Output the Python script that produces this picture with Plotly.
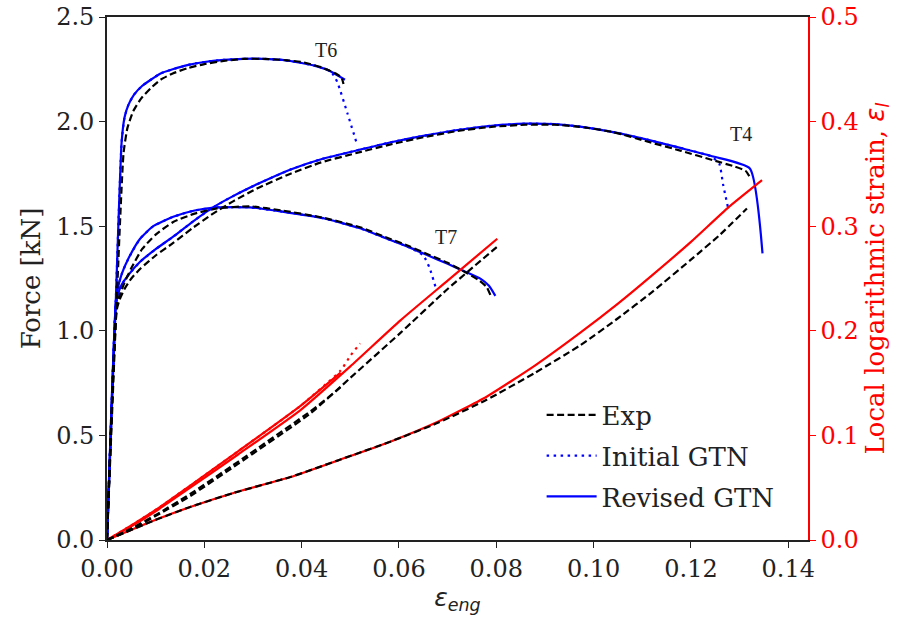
import plotly.graph_objects as go

# ---------------- Force data (left axis, kN) ----------------
# T6
t6_rev_x = [0, 0.0018, 0.0030, 0.0036, 0.0044, 0.0056, 0.0072, 0.0090, 0.0110, 0.0135, 0.0165, 0.0200,
            0.0240, 0.0280, 0.0320, 0.0360, 0.0400, 0.0430, 0.0460, 0.0489]
t6_rev_f = [0, 1.14, 1.90, 2.02, 2.08, 2.13, 2.17, 2.20, 2.23, 2.25, 2.27, 2.285,
            2.295, 2.30, 2.30, 2.295, 2.28, 2.265, 2.24, 2.20]
t6_ini_x = [0, 0.0018, 0.0030, 0.0036, 0.0044, 0.0056, 0.0072, 0.0090, 0.0110, 0.0135, 0.0165, 0.0200,
            0.0240, 0.0280, 0.0320, 0.0360, 0.0400, 0.0430, 0.0460, 0.0473, 0.0494, 0.0514]
t6_ini_f = [0, 1.14, 1.90, 2.02, 2.08, 2.13, 2.17, 2.20, 2.23, 2.25, 2.27, 2.285,
            2.295, 2.30, 2.30, 2.295, 2.28, 2.265, 2.24, 2.19, 2.04, 1.89]
t6_exp_x = [0, 0.0020, 0.0034, 0.0042, 0.0054, 0.0070, 0.0090, 0.0110, 0.0135, 0.0165, 0.0200, 0.0240,
            0.0280, 0.0320, 0.0360, 0.0400, 0.0440, 0.0470, 0.0482, 0.0486]
t6_exp_f = [0, 1.15, 1.85, 1.97, 2.05, 2.11, 2.16, 2.20, 2.23, 2.255, 2.275, 2.29,
            2.30, 2.30, 2.295, 2.285, 2.26, 2.23, 2.21, 2.18]

# T4
t4_rev_x = [0, 0.0018, 0.0022, 0.0030, 0.0045, 0.0068, 0.0100, 0.0136, 0.0175, 0.0218, 0.0260, 0.0308,
            0.0376, 0.0440, 0.0513, 0.0581, 0.0650, 0.0720, 0.0790, 0.0860, 0.0920, 0.0972, 0.1040,
            0.1110, 0.1180, 0.1246, 0.1321, 0.1347]
t4_rev_f = [0, 1.12, 1.17, 1.22, 1.27, 1.33, 1.39, 1.45, 1.52, 1.59, 1.645, 1.70,
            1.77, 1.82, 1.862, 1.90, 1.932, 1.96, 1.98, 1.99, 1.988, 1.976, 1.95,
            1.914, 1.873, 1.833, 1.776, 1.37]
t4_ini_x = [0, 0.0018, 0.0022, 0.0030, 0.0045, 0.0068, 0.0100, 0.0136, 0.0175, 0.0218, 0.0260, 0.0308,
            0.0376, 0.0440, 0.0513, 0.0581, 0.0650, 0.0720, 0.0790, 0.0860, 0.0920, 0.0972, 0.1040,
            0.1110, 0.1180, 0.1240, 0.1258, 0.1266, 0.1276]
t4_ini_f = [0, 1.12, 1.17, 1.22, 1.27, 1.33, 1.39, 1.45, 1.52, 1.59, 1.645, 1.70,
            1.77, 1.82, 1.862, 1.90, 1.932, 1.96, 1.98, 1.99, 1.988, 1.976, 1.95,
            1.914, 1.873, 1.835, 1.80, 1.70, 1.59]
t4_exp_x = [0, 0.0020, 0.0026, 0.0036, 0.0050, 0.0070, 0.0100, 0.0136, 0.0175, 0.0218, 0.0260, 0.0308,
            0.0376, 0.0440, 0.0513, 0.0581, 0.0650, 0.0720, 0.0790, 0.0860, 0.0920, 0.0972, 0.1040,
            0.1110, 0.1180, 0.1246, 0.1290, 0.1312, 0.1321]
t4_exp_f = [0, 1.10, 1.15, 1.20, 1.25, 1.30, 1.36, 1.42, 1.49, 1.56, 1.62, 1.68,
            1.75, 1.805, 1.85, 1.89, 1.925, 1.955, 1.975, 1.985, 1.985, 1.975, 1.95,
            1.905, 1.86, 1.815, 1.785, 1.765, 1.735]

# T7
t7_rev_x = [0, 0.0018, 0.0022, 0.0030, 0.0045, 0.0068, 0.0095, 0.0136, 0.0180, 0.0226, 0.0294, 0.0360,
            0.0445, 0.0520, 0.0570, 0.0620, 0.0660, 0.0700, 0.0733, 0.0768, 0.0785, 0.0798]
t7_rev_f = [0, 1.13, 1.20, 1.27, 1.35, 1.44, 1.50, 1.545, 1.575, 1.59, 1.59, 1.57,
            1.538, 1.49, 1.445, 1.40, 1.36, 1.32, 1.286, 1.248, 1.215, 1.167]
t7_ini_x = [0, 0.0018, 0.0022, 0.0030, 0.0045, 0.0068, 0.0095, 0.0136, 0.0180, 0.0226, 0.0294, 0.0360,
            0.0445, 0.0520, 0.0570, 0.0620, 0.0650, 0.0663, 0.0675]
t7_ini_f = [0, 1.13, 1.20, 1.27, 1.35, 1.44, 1.50, 1.545, 1.575, 1.59, 1.59, 1.57,
            1.538, 1.49, 1.445, 1.40, 1.36, 1.30, 1.21]
t7_exp_x = [0, 0.0020, 0.0026, 0.0036, 0.0050, 0.0072, 0.0100, 0.0136, 0.0180, 0.0226, 0.0294, 0.0360,
            0.0445, 0.0520, 0.0570, 0.0620, 0.0660, 0.0700, 0.0733, 0.0765, 0.0780, 0.0788]
t7_exp_f = [0, 1.12, 1.17, 1.23, 1.30, 1.39, 1.46, 1.52, 1.56, 1.585, 1.595, 1.575,
            1.54, 1.495, 1.45, 1.405, 1.365, 1.325, 1.285, 1.24, 1.21, 1.17]

# ---------------- Local strain data (right axis) ----------------
t4_eps_rev_x = [0, 0.0104, 0.0171, 0.0260, 0.0377, 0.0480, 0.0582, 0.0680, 0.0780, 0.0880, 0.0972,
                0.1050, 0.1120, 0.1200, 0.1277, 0.1346]
t4_eps_rev = [0, 0.020, 0.0316, 0.045, 0.0602, 0.077, 0.094, 0.113, 0.137, 0.167, 0.198,
              0.226, 0.253, 0.285, 0.318, 0.344]
t4_eps_exp_x = [0, 0.0104, 0.0171, 0.0260, 0.0377, 0.0480, 0.0582, 0.0680, 0.0780, 0.0880, 0.0972,
                0.1050, 0.1120, 0.1200, 0.1260, 0.1315]
t4_eps_exp = [0, 0.020, 0.0316, 0.045, 0.0602, 0.077, 0.094, 0.112, 0.134, 0.160, 0.186,
              0.212, 0.237, 0.268, 0.292, 0.317]

t7_eps_rev_x = [0, 0.0050, 0.0104, 0.0171, 0.0270, 0.0397, 0.0500, 0.0603, 0.0700, 0.0802]
t7_eps_rev = [0, 0.013, 0.0287, 0.050, 0.082, 0.124, 0.166, 0.210, 0.248, 0.288]
t7_eps_exp_x = [0, 0.0050, 0.0104, 0.0171, 0.0270, 0.0418, 0.0500, 0.0603, 0.0700, 0.0806]
t7_eps_exp = [0, 0.010, 0.024, 0.042, 0.073, 0.121, 0.155, 0.198, 0.240, 0.282]

t6_eps_rev_x = [0, 0.0050, 0.0104, 0.0171, 0.0270, 0.0397, 0.0480]
t6_eps_rev = [0, 0.014, 0.030, 0.052, 0.085, 0.128, 0.160]
t6_eps_ini_x = [0, 0.0050, 0.0104, 0.0171, 0.0270, 0.0397, 0.0480, 0.0500, 0.0520]
t6_eps_ini = [0, 0.014, 0.030, 0.052, 0.085, 0.128, 0.162, 0.176, 0.188]
t6_eps_exp_x = [0, 0.0050, 0.0104, 0.0171, 0.0270, 0.0418, 0.0470, 0.0485]
t6_eps_exp = [0, 0.011, 0.025, 0.044, 0.075, 0.123, 0.142, 0.148]

labels = [("T6", 0.0451, 2.343), ("T4", 0.1303, 1.943), ("T7", 0.0697, 1.448)]

x_ticks = [0.00, 0.02, 0.04, 0.06, 0.08, 0.10, 0.12, 0.14]
y_ticks = [0.0, 0.5, 1.0, 1.5, 2.0, 2.5]
y2_ticks = [0.0, 0.1, 0.2, 0.3, 0.4, 0.5]

BLUE = "#0000ff"
RED = "#ff0000"
BLACK = "#000000"
DASH = "7px,3.5px"
DOT = "2.5px,4.5px"
LW = 2.2

fig = go.Figure()

def add(x, y, color, dash, axis="y", name=None, show=False, rank=None, group=None):
    fig.add_trace(go.Scatter(
        x=x, y=y, mode="lines", yaxis=axis,
        line=dict(color=color, width=LW, dash=dash, shape="spline", smoothing=0.5),
        name=name if name else "", showlegend=show,
        legendrank=rank if rank else 1000,
        legendgroup=group if group else None,
        hoverinfo="skip"))

# strain curves (red)
add(t4_eps_rev_x, t4_eps_rev, RED, "solid", "y2")
add(t7_eps_rev_x, t7_eps_rev, RED, "solid", "y2")
add(t6_eps_rev_x, t6_eps_rev, RED, "solid", "y2")
add(t6_eps_ini_x, t6_eps_ini, RED, DOT, "y2")

# revised GTN force
add(t6_rev_x, t6_rev_f, BLUE, "solid", name="Revised GTN", show=True, rank=3, group="c")
add(t4_rev_x, t4_rev_f, BLUE, "solid", group="c")
add(t7_rev_x, t7_rev_f, BLUE, "solid", group="c")
# initial GTN force
add(t6_ini_x, t6_ini_f, BLUE, DOT, name="Initial GTN", show=True, rank=2, group="b")
add(t4_ini_x, t4_ini_f, BLUE, DOT, group="b")
add(t7_ini_x, t7_ini_f, BLUE, DOT, group="b")
# experiments
add(t6_exp_x, t6_exp_f, BLACK, DASH, name="Exp", show=True, rank=1, group="a")
add(t4_exp_x, t4_exp_f, BLACK, DASH, group="a")
add(t7_exp_x, t7_exp_f, BLACK, DASH, group="a")
add(t4_eps_exp_x, t4_eps_exp, BLACK, DASH, "y2", group="a")
add(t7_eps_exp_x, t7_eps_exp, BLACK, DASH, "y2", group="a")
add(t6_eps_exp_x, t6_eps_exp, BLACK, DASH, "y2", group="a")

for txt, lx, ly in labels:
    fig.add_annotation(x=lx, y=ly, text=txt, showarrow=False, xref="x", yref="y",
                       font=dict(family="Liberation Serif", size=20, color="#222"))

SERIF = "DejaVu Serif"
fig.update_layout(
    width=901, height=618,
    margin=dict(l=107, r=93, t=17, b=78, autoexpand=False),
    plot_bgcolor="white", paper_bgcolor="white",
    font=dict(family=SERIF, size=24, color="#222"),
    xaxis=dict(range=[0, 0.14405], tickvals=x_ticks, ticktext=[f"{v:.2f}" for v in x_ticks],
               showline=True, linecolor="#222", linewidth=1.6, mirror=True,
               ticks="outside", ticklen=6, tickwidth=1.4, tickcolor="#222",
               tickfont=dict(family=SERIF, size=24, color="#222"),
               showgrid=False, zeroline=False, automargin=False,
               title=dict(text="<i>ε</i><sub><i>eng</i></sub>",
                          font=dict(family="DejaVu Sans", size=25, color="#222"), standoff=4)),
    yaxis=dict(range=[0, 2.5], tickvals=y_ticks, ticktext=[f"{v:.1f}" for v in y_ticks],
               showline=True, linecolor="#222", linewidth=1.6,
               ticks="outside", ticklen=6, tickwidth=1.4, tickcolor="#222",
               tickfont=dict(family=SERIF, size=24, color="#222"),
               showgrid=False, zeroline=False, automargin=False,
               title=dict(text="Force [kN]", font=dict(family=SERIF, size=26, color="#222"), standoff=8)),
    yaxis2=dict(range=[0, 0.5], overlaying="y", side="right",
                tickvals=y2_ticks, ticktext=[f"{v:.1f}" for v in y2_ticks],
                showline=True, linecolor=RED, linewidth=1.6,
                ticks="outside", ticklen=6, tickwidth=1.4, tickcolor=RED,
                tickfont=dict(color=RED, family=SERIF, size=24),
                showgrid=False, zeroline=False, automargin=False,
                title=dict(text="Local logarithmic strain, <span style=\"font-family:DejaVu Sans\"><i>ε<sub>l</sub></i></span>",
                           font=dict(family=SERIF, size=26, color=RED), standoff=8)),
    legend=dict(x=0.62, y=0.284, xanchor="left", yanchor="top",
                bgcolor="rgba(255,255,255,0)", borderwidth=0,
                font=dict(family=SERIF, size=26, color="#222"),
                tracegroupgap=4, traceorder="grouped", itemwidth=50),
    showlegend=True,
)

fig.write_html("out.html")
